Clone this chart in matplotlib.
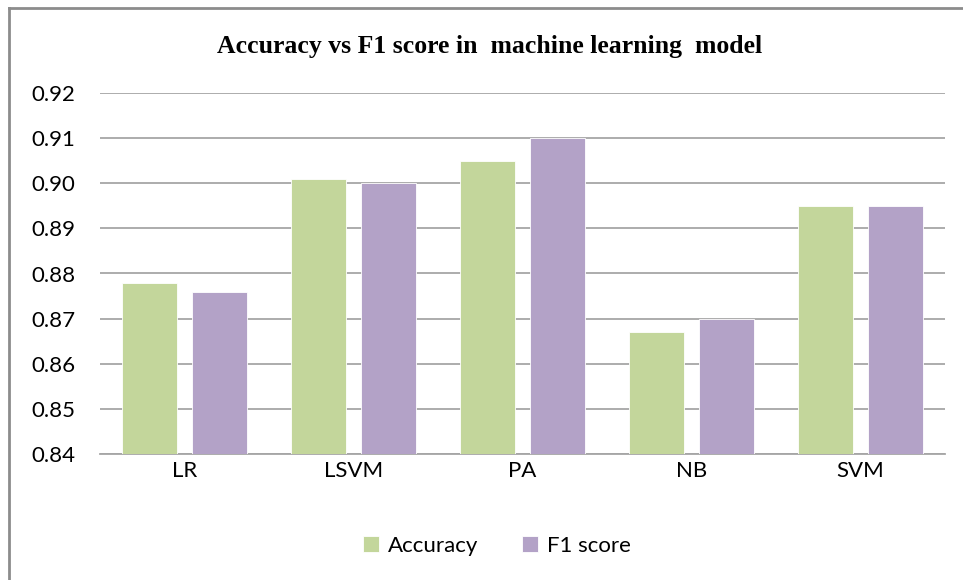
import numpy as np
import matplotlib
matplotlib.use('Agg')
import matplotlib.pyplot as plt
from matplotlib.lines import Line2D

models = ['LR', 'LSVM', 'PA', 'NB', 'SVM']
accuracy = [0.878, 0.901, 0.905, 0.867, 0.895]
f1_score = [0.876, 0.900, 0.910, 0.870, 0.895]
yticks = [0.84, 0.85, 0.86, 0.87, 0.88, 0.89, 0.90, 0.91, 0.92]

fig = plt.figure(figsize=(9.63, 5.8), dpi=100)
ax = fig.add_axes([100 / 963, 1 - 454 / 580, 845 / 963, (454 - 93) / 580])

# outer chart border (left and top visible)
fig.add_artist(Line2D([9 / 963, 9 / 963], [0, 1 - 8 / 580], color='#8c8c8c', lw=2))
fig.add_artist(Line2D([9 / 963, 1], [1 - 8 / 580, 1 - 8 / 580], color='#8c8c8c', lw=2))

x = np.arange(len(models))
w = 0.33
gap = 0.083
ax.bar(x - (w + gap) / 2, accuracy, w, color='#C3D69B', edgecolor='white', lw=0.6,
       label='Accuracy', zorder=3)
ax.bar(x + (w + gap) / 2, f1_score, w, color='#B3A2C7', edgecolor='white', lw=0.6,
       label='F1 score', zorder=3)

ax.set_xlim(-0.5, len(models) - 0.5)
ax.set_ylim(0.84, 0.92)
ax.set_yticks(yticks)
ax.set_yticklabels([f'{v:.2f}' for v in yticks])
ax.set_xticks(x)
ax.set_xticklabels(models)
ax.grid(axis='y', color='#a6a6a6', lw=1.3, zorder=0)
for s in ['top', 'right', 'left']:
    ax.spines[s].set_visible(False)
ax.spines['bottom'].set_color('#a6a6a6')
ax.spines['bottom'].set_linewidth(1.3)
ax.tick_params(length=0, labelsize=16, colors='#000000')
for lab in ax.get_xticklabels() + ax.get_yticklabels():
    lab.set_family('Lato')
ax.tick_params(axis='y', pad=18)
ax.tick_params(axis='x', pad=5)

fig.text(490 / 963, 1 - 47 / 580, 'Accuracy vs F1 score in  machine learning  model',
         family='Liberation Serif', weight='bold', fontsize=18.5, ha='center', va='center')

fig.legend(loc='center', bbox_to_anchor=(497 / 963, 1 - 546 / 580), ncol=2, frameon=False,
           prop={'family': 'Lato', 'size': 16}, handlelength=0.7, handleheight=0.7,
           handletextpad=0.4, columnspacing=2.0)

fig.savefig('out.png', dpi=100, facecolor='white')
